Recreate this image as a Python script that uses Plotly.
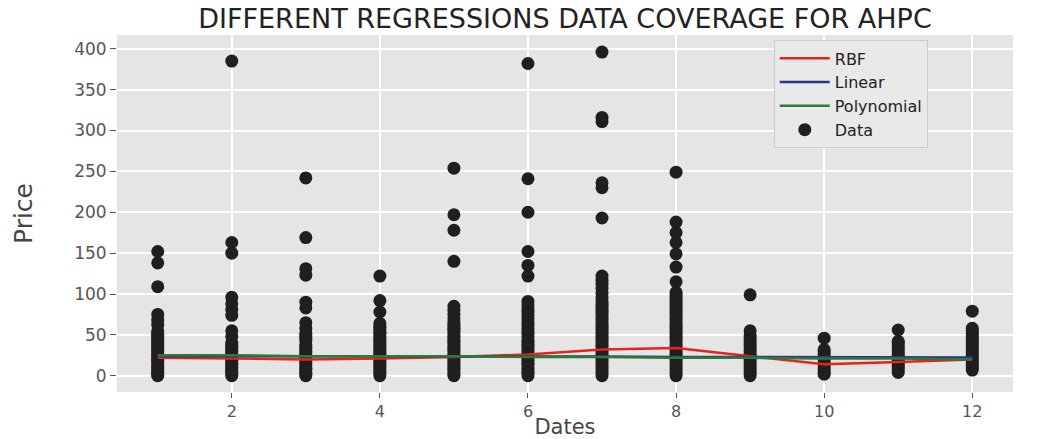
import plotly.graph_objects as go

months = [1, 2, 3, 4, 5, 6, 7, 8, 9, 10, 11, 12]

m1_prices = [0, 1, 3, 5, 8, 10, 12, 15, 18, 20, 22, 25, 27, 30, 33, 35, 38, 40, 43, 45, 48, 50, 52, 55,
             62, 68, 75, 109, 138, 152]
m2_prices = [0, 2, 5, 7, 10, 13, 15, 18, 20, 23, 25, 28, 30, 33, 35, 38, 40, 48, 55,
             74, 81, 88, 96, 150, 163, 385]
m3_prices = [0, 2, 4, 7, 9, 12, 15, 17, 20, 22, 25, 28, 30, 33, 35, 38, 43, 46, 49, 52, 58, 65,
             83, 90, 123, 131, 169, 242]
m4_prices = [0, 3, 5, 8, 11, 13, 16, 19, 21, 24, 27, 29, 32, 35, 37, 40, 43, 45, 48, 51, 53, 56, 59, 61, 64,
             78, 92, 122]
m5_prices = [0, 2, 5, 8, 10, 13, 16, 18, 21, 24, 26, 29, 32, 34, 37, 40, 42, 45, 48, 50, 53, 56, 58, 61, 63, 66,
             70, 75, 80, 85, 140, 178, 197, 254]
m6_prices = [0, 3, 5, 8, 11, 14, 16, 19, 22, 25, 27, 30, 33, 36, 38, 41, 44, 48, 52, 55, 58, 62, 66, 70, 74, 78,
             82, 86, 91, 122, 135, 152, 200, 241, 382]
m7_prices = [0, 3, 6, 9, 12, 15, 18, 21, 24, 27, 30, 33, 36, 39, 42, 45, 48, 51, 54, 57, 60, 63, 66, 69, 72, 75,
             78, 81, 84, 87, 90, 95, 101, 107, 112, 117, 122, 193, 230, 236, 311, 316, 396]
m8_prices = [0, 3, 6, 9, 12, 15, 18, 21, 24, 27, 30, 33, 36, 39, 42, 45, 48, 51, 54, 57, 60, 63, 66, 69, 72, 75,
             78, 81, 84, 87, 90, 93, 96, 99, 102, 115, 133, 149, 163, 175, 188, 249]
m9_prices = [0, 3, 6, 9, 12, 15, 18, 21, 24, 27, 30, 33, 36, 39, 42, 46, 50, 55, 99]
m10_prices = [2, 5, 8, 11, 14, 17, 20, 23, 26, 29, 32, 46]
m11_prices = [4, 7, 10, 13, 16, 19, 22, 25, 28, 31, 34, 37, 40, 42, 56]
m12_prices = [7, 10, 13, 16, 19, 22, 25, 28, 31, 34, 37, 40, 43, 46, 49, 52, 55, 58, 79]

# regression predictions per month
rbf_pred = [22, 21, 20, 21, 23, 26, 32, 34, 24, 14, 17, 20]
linear_pred = [24, 24, 24, 24, 23.5, 23.5, 23.5, 23, 23, 23, 22.5, 22.5]
poly_pred = [25, 25, 24, 24, 24, 23, 23, 22, 22, 21, 21, 20]

x_ticks = [2, 4, 6, 8, 10, 12]
y_ticks = [0, 50, 100, 150, 200, 250, 300, 350, 400]

all_prices = [m1_prices, m2_prices, m3_prices, m4_prices, m5_prices, m6_prices,
              m7_prices, m8_prices, m9_prices, m10_prices, m11_prices, m12_prices]
xs, ys = [], []
for m, vals in zip(months, all_prices):
    xs.extend([m] * len(vals))
    ys.extend(vals)

fig = go.Figure()
fig.add_trace(go.Scatter(x=xs, y=ys, mode="markers", name="Data", legendrank=4,
                         marker=dict(color="#211e1f", size=13, line=dict(width=0))))
fig.add_trace(go.Scatter(x=months, y=rbf_pred, mode="lines", name="RBF", legendrank=1,
                         line=dict(color="#e8231d", width=2.5)))
fig.add_trace(go.Scatter(x=months, y=linear_pred, mode="lines", name="Linear", legendrank=2,
                         line=dict(color="#27358f", width=2.5)))
fig.add_trace(go.Scatter(x=months, y=poly_pred, mode="lines", name="Polynomial", legendrank=3,
                         line=dict(color="#2b7a36", width=2.5)))

fig.update_layout(
    width=1063, height=439,
    margin=dict(l=117, r=50, t=35, b=47, autoexpand=False),
    paper_bgcolor="white",
    plot_bgcolor="#E5E5E5",
    font=dict(family="DejaVu Sans", color="#555555"),
    title=dict(text="DIFFERENT REGRESSIONS DATA COVERAGE FOR AHPC",
               x=0.5, xref="paper", xanchor="center", y=0.958, yanchor="middle",
               font=dict(size=27, color="#222222", family="DejaVu Sans")),
    showlegend=True,
    legend=dict(x=0.733, y=0.985, xanchor="left", yanchor="top",
                bgcolor="#E9E9E9", bordercolor="#CCCCCC", borderwidth=1,
                font=dict(size=16, color="#222222"), tracegroupgap=0,
                itemwidth=50, entrywidth=215, entrywidthmode="pixels"),
)
fig.update_xaxes(range=[0.45, 12.55], tickvals=x_ticks, ticks="outside", ticklen=5, tickwidth=1,
                 tickcolor="#555555", showgrid=True, gridcolor="white", gridwidth=1.5,
                 zeroline=False, showline=False, tickfont=dict(size=16, color="#555555"),
                 automargin=False,
                 title=dict(text="Dates", font=dict(size=21, color="#444444"), standoff=4))
fig.update_yaxes(range=[-19.85, 416.85], tickvals=y_ticks, ticks="outside", ticklen=6, tickwidth=1,
                 tickcolor="#555555", showgrid=True, gridcolor="white", gridwidth=1.5,
                 zeroline=False, showline=False, tickfont=dict(size=17, color="#555555"),
                 automargin=False,
                 title=dict(text="Price", font=dict(size=25, color="#444444"), standoff=34))

fig.write_html("out.html", config={"displayModeBar": False},
               post_script="document.body.style.margin='0';document.body.style.overflow='hidden';")
